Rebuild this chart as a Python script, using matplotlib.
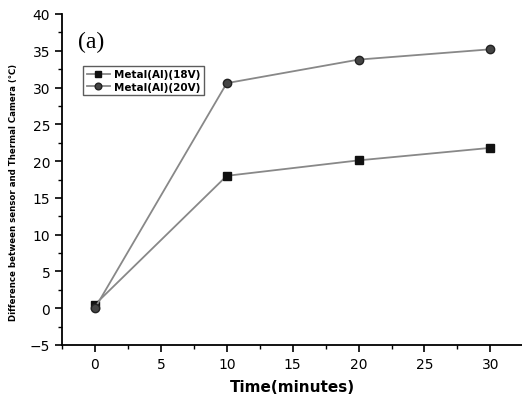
import matplotlib
matplotlib.use("Agg")
import matplotlib.pyplot as plt
from matplotlib.ticker import MultipleLocator

time_min = [0, 10, 20, 30]
diff_18v = [0.5, 18.0, 20.1, 21.8]
diff_20v = [0.0, 30.6, 33.8, 35.2]

fig = plt.figure(figsize=(5.22, 4.02), dpi=100)
ax = fig.add_axes([62 / 522, 1 - 346 / 402, 460 / 522, (346 - 15) / 402])

ax.plot(time_min, diff_18v, color="#888888", lw=1.3, marker="s", ms=6,
        mfc="#111111", mec="#111111", label="Metal(Al)(18V)")
ax.plot(time_min, diff_20v, color="#888888", lw=1.3, marker="o", ms=6,
        mfc="#444444", mec="#222222", label="Metal(Al)(20V)")

ax.set_xlim(-2.5, 32.4)
ax.set_ylim(-5, 40)
ax.xaxis.set_major_locator(MultipleLocator(5))
ax.xaxis.set_minor_locator(MultipleLocator(2.5))
ax.yaxis.set_major_locator(MultipleLocator(5))
ax.yaxis.set_minor_locator(MultipleLocator(2.5))
ax.tick_params(which="major", direction="out", length=5, width=1.2, labelsize=10)
ax.tick_params(which="minor", direction="out", length=3, width=1.0)

for s in ["top", "right"]:
    ax.spines[s].set_visible(False)
for s in ["left", "bottom"]:
    ax.spines[s].set_linewidth(1.3)

ax.set_xlabel("Time(minutes)", fontsize=11, fontweight="bold", labelpad=6)
ax.set_ylabel("Difference between sensor and Thermal Camera (\u2103)",
              fontsize=6.2, fontweight="bold")
ax.yaxis.set_label_coords(-0.095, 0.465)

ax.text(0.035, 0.9, "(a)", transform=ax.transAxes, fontsize=17,
        family="Liberation Serif")

leg = ax.legend(loc="upper left", bbox_to_anchor=(0.035, 0.86),
                prop={"weight": "bold", "size": 7.5}, frameon=True, fancybox=False,
                edgecolor="#333333", handlelength=2.2, borderpad=0.35,
                labelspacing=0.25, handletextpad=0.4, markerscale=0.8)
leg.get_frame().set_linewidth(1.0)

fig.savefig("out.png", dpi=100)
